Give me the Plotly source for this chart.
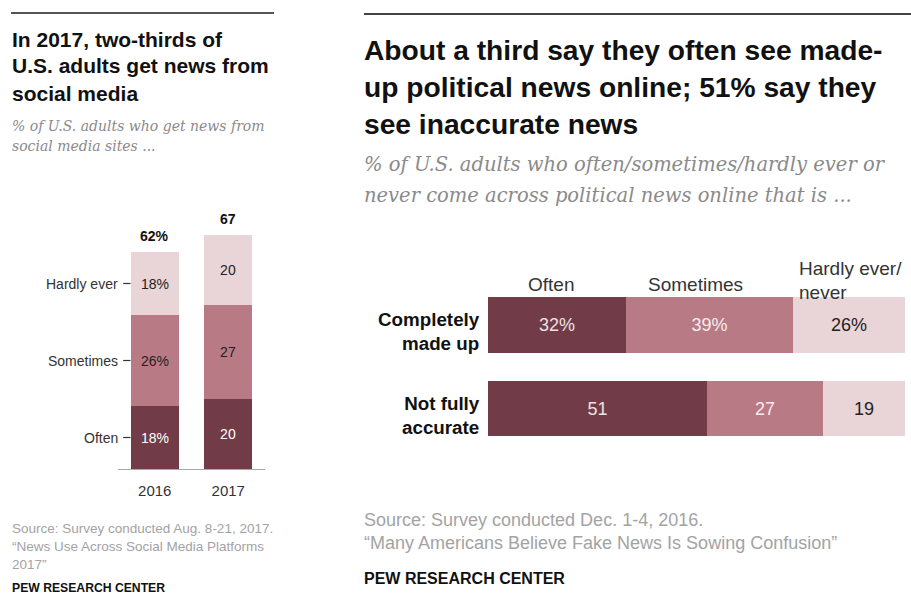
import plotly.graph_objects as go

W, H = 911, 608

# ---- data: left panel (news from social media, by year) ----
years = ["2016", "2017"]
freq_left = ["Often", "Sometimes", "Hardly ever"]
often_yr = [18, 20]
sometimes_yr = [26, 27]
hardly_yr = [18, 20]
totals_yr = [62, 67]

# ---- data: right panel (political news online) ----
news_types = ["Completely<br>made up", "Not fully<br>accurate"]
freq_right = ["Often", "Sometimes", "Hardly ever/<br>never"]
often_news = [32, 51]
sometimes_news = [39, 27]
hardly_news = [26, 19]

DARK = "#713c47"
MID = "#b87a84"
LIGHT = "#e9d4d7"
SANS = "Liberation Sans, Arial, sans-serif"
SERIF = "DejaVu Serif, Georgia, serif"


def px(x):
    return x / W


def py(y):
    return 1 - y / H


def labels(vals, pct_first):
    out = []
    for i, v in enumerate(vals):
        out.append(f"{v}%" if (i == 0 and pct_first) else str(v))
    return out


fig = go.Figure()

# left panel: vertical stacked bars
xpos = list(range(len(years)))
left_series = [
    (often_yr, DARK, "white"),
    (sometimes_yr, MID, "#222222"),
    (hardly_yr, LIGHT, "#222222"),
]
for name, (vals, col, tcol) in zip(freq_left, left_series):
    fig.add_trace(go.Bar(
        x=xpos, y=vals, name=name, marker=dict(color=col, line=dict(width=0)),
        width=0.653, text=labels(vals, True), textposition="inside",
        insidetextanchor="middle", textangle=0,
        textfont=dict(family=SANS, size=14, color=tcol),
        xaxis="x", yaxis="y", hoverinfo="skip", showlegend=False,
    ))

# right panel: horizontal stacked bars
ypos = [1, 0]
right_series = [
    (often_news, DARK, "#ece2e4"),
    (sometimes_news, MID, "#f5ecee"),
    (hardly_news, LIGHT, "#222222"),
]
for name, (vals, col, tcol) in zip(freq_right, right_series):
    fig.add_trace(go.Bar(
        x=vals, y=ypos, orientation="h", name=name,
        marker=dict(color=col, line=dict(width=0)),
        width=0.665, text=labels(vals, True), textposition="inside",
        insidetextanchor="middle", textangle=0,
        textfont=dict(family=SANS, size=18, color=tcol),
        xaxis="x2", yaxis="y2", hoverinfo="skip", showlegend=False,
    ))

ann = []


def text_lines(lines, x, ys, size, color, family=SANS, bold=False, italic=False, anchor="left"):
    for line, y in zip(lines, ys):
        t = line
        if bold:
            t = f"<b>{t}</b>"
        if italic:
            t = f"<i>{t}</i>"
        ann.append(dict(x=px(x), y=py(y), xref="paper", yref="paper", text=t,
                        showarrow=False, xanchor=anchor, yanchor="middle",
                        font=dict(family=family, size=size, color=color)))


# left titles
text_lines(["In 2017, two-thirds of", "U.S. adults get news from", "social media"],
           10, [40, 66, 93], 21, "#111111", bold=True)
text_lines(["% of U.S. adults who get news from", "social media sites ..."],
           10, [126, 146], 14, "#8a8a8a", family=SERIF, italic=True)
text_lines(["Source: Survey conducted Aug. 8-21, 2017.",
            "\u201cNews Use Across Social Media Platforms", "2017\u201d"],
           10, [528, 546, 564], 13.5, "#a3a3a3")
text_lines(["PEW RESEARCH CENTER"], 10, [588], 12.2, "#111111", bold=True)

# right titles
text_lines(["About a third say they often see made-",
            "up political news online; 51% say they",
            "see inaccurate news"],
           362, [50, 87, 124], 28.2, "#111111", bold=True)
text_lines(["% of U.S. adults who often/sometimes/hardly ever or",
            "never come across political news online that is ..."],
           362, [165, 195], 19.5, "#8a8a8a", family=SERIF, italic=True)
text_lines(["Source: Survey conducted Dec. 1-4, 2016.",
            "\u201cMany Americans Believe Fake News Is Sowing Confusion\u201d"],
           362, [520, 543], 18, "#a3a3a3")
text_lines(["PEW RESEARCH CENTER"], 362, [578], 16, "#111111", bold=True)

# left: totals above bars
for xi, tot in zip(xpos, totals_yr):
    ann.append(dict(x=xi, y=tot, xref="x", yref="y",
                    text=f"<b>{tot}%</b>" if xi == 0 else f"<b>{tot}</b>",
                    showarrow=False, yanchor="bottom", yshift=6,
                    font=dict(family=SANS, size=14, color="#111111")))

# left: frequency labels beside the 2016 bar
shapes = []
base = 0
for name, vals in zip(freq_left, [often_yr, sometimes_yr, hardly_yr]):
    mid = base + vals[0] / 2
    base += vals[0]
    ann.append(dict(x=-0.5, y=mid, xref="x", yref="y", text=name,
                    showarrow=False, xanchor="right", yanchor="middle", xshift=2,
                    font=dict(family=SANS, size=14, color="#333333")))
    shapes.append(dict(type="line", xref="x", yref="y", x0=-0.43, x1=-0.33,
                       y0=mid, y1=mid, line=dict(color="#333333", width=1.2)))

# right: row labels
for yi, name in zip(ypos, news_types):
    ann.append(dict(x=px(482), y=yi, xref="paper", yref="y2", text=f"<b>{name}</b>",
                    showarrow=False, xanchor="right", yanchor="middle", align="right",
                    yshift=-6, font=dict(family=SANS, size=18.8, color="#111111")))

# right: column headers
hdr_pos = [(551, "center", [284]), (695, "center", [284]), (797, "left", [268, 292])]
for name, (hx, anc, ys) in zip(freq_right, hdr_pos):
    text_lines(name.split("<br>"), hx, ys, 19, "#333333", anchor=anc)

# top rules
shapes.append(dict(type="line", xref="paper", yref="paper", x0=px(11), x1=px(274),
                   y0=py(13), y1=py(13), line=dict(color="#555555", width=2)))
shapes.append(dict(type="line", xref="paper", yref="paper", x0=px(364), x1=px(911),
                   y0=py(14), y1=py(14), line=dict(color="#444444", width=2)))

fig.update_layout(
    width=W, height=H, margin=dict(l=0, r=0, t=0, b=0),
    paper_bgcolor="white", plot_bgcolor="white",
    barmode="stack", bargap=0,
    annotations=ann, shapes=shapes,
    xaxis=dict(domain=[px(118), px(265)], range=[-0.5, 1.5],
               tickvals=xpos, ticktext=years, showgrid=False, zeroline=False,
               showline=True, linecolor="#a8a8a8", linewidth=1.2, ticks="",
               ticklabelstandoff=8,
               tickfont=dict(family=SANS, size=15, color="#333333"), fixedrange=True),
    yaxis=dict(domain=[py(469), py(224)], range=[0, 70], visible=False,
               fixedrange=True),
    xaxis2=dict(domain=[px(488), 1.0], range=[0, 423 / (417 / 97)], visible=False,
                anchor="y2", fixedrange=True),
    yaxis2=dict(domain=[py(459.1), py(275.4)], range=[-0.6, 1.6], visible=False,
                anchor="x2", fixedrange=True),
    uniformtext=dict(mode=False),
)

fig.write_html("out.html", config=dict(displayModeBar=False))
